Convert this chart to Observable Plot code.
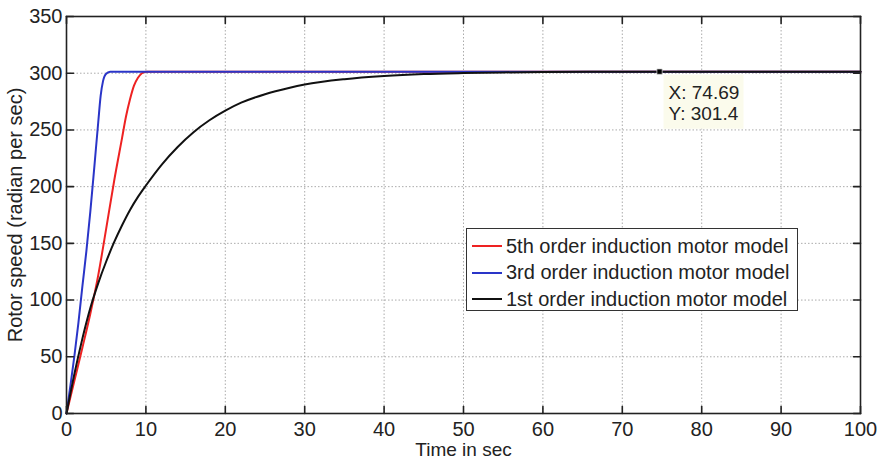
<!DOCTYPE html>
<html>
<head>
<meta charset="utf-8">
<script src="https://cdn.jsdelivr.net/npm/d3@7"></script>
<script src="https://cdn.jsdelivr.net/npm/@observablehq/plot@0.6"></script>
<style>
  html, body { margin: 0; padding: 0; background: #fff; }
  #wrap { position: relative; width: 880px; height: 459px; font-family: "Liberation Sans", Arial, sans-serif; color: #222; }
  #legend { position: absolute; left: 466px; top: 228px; width: 330px; height: 81px; border: 1.5px solid #333; background: #fff; box-sizing: content-box; }
  .row { position: absolute; left: 5px; height: 24px; display: flex; align-items: center; font-size: 20px; white-space: nowrap; }
  .sw { width: 30px; height: 0; border-top: 2px solid; margin-right: 4px; }
</style>
</head>
<body>
<div id="wrap"></div>
<script>
// ---- data ----
const xTicks = [0, 10, 20, 30, 40, 50, 60, 70, 80, 90, 100];
const yTicks = [0, 50, 100, 150, 200, 250, 300, 350];

const seriesNames = ["5th order induction motor model", "3rd order induction motor model", "1st order induction motor model"];
const seriesColors = ["#ee2222", "#2a35c8", "#111111"];

const t5 = [0, 1, 2, 3, 4, 5, 6, 7, 7.5, 8, 8.5, 9, 9.5, 10, 10.5, 100];
const v5 = [0, 29, 58, 88, 122, 163, 205, 243, 262, 277, 289, 296, 300, 301.2, 301.4, 301.4];

const t3 = [0, 0.5, 1, 1.5, 2, 2.5, 3, 3.5, 4, 4.3, 4.6, 5, 5.5, 6, 100];
const v3 = [0, 25, 51, 80, 112, 143, 178, 217, 257, 280, 293, 299.5, 301.2, 301.4, 301.4];

const t1 = [0, 1, 2, 3, 4, 5, 6, 7, 8, 9, 10, 12, 14, 16, 18, 20, 22, 25, 28, 30, 35, 40, 45, 50, 55, 60, 70, 80, 90, 100];
const v1 = [0, 35, 66, 93, 115, 134, 151, 166, 179.5, 191, 201, 219.5, 235, 248, 258.5, 267, 274, 281.5, 287, 290, 294.7, 297.5, 299.2, 300.1, 300.7, 301, 301.3, 301.4, 301.4, 301.4];

const tipX = 74.69;
const tipY = 301.4;

const xLabel = "Time in sec";
const yLabel = "Rotor speed (radian per sec)";

// ---- build ----
const toRows = (ts, vs, s) => ts.map((t, i) => ({t, v: vs[i], s}));
const rows = [
  ...toRows(t5, v5, seriesNames[0]),
  ...toRows(t3, v3, seriesNames[1]),
  ...toRows(t1, v1, seriesNames[2])
];
const tip = [{x: tipX, y: tipY}];

const tickShape = {draw(context, l) { context.moveTo(0, 0); context.lineTo(0, -l); }};
const boxSymbol = {draw(context) { context.rect(4, 3, 80, 54); }};

const chart = Plot.plot({
  width: 880,
  height: 459,
  marginLeft: 66,
  marginRight: 20,
  marginTop: 16,
  marginBottom: 46,
  style: {fontFamily: "Liberation Sans, Arial, sans-serif", fontSize: "20px", color: "#222", background: "#fff"},
  x: {domain: [0, 100], ticks: xTicks, tickSize: 0, tickPadding: 8, label: null},
  y: {domain: [0, 350], ticks: yTicks, tickSize: 0, tickPadding: 4, label: null},
  color: {domain: seriesNames, range: seriesColors},
  marks: [
    Plot.ruleX(xTicks, {stroke: "#888", strokeOpacity: 0.7, strokeDasharray: "1.5,2"}),
    Plot.ruleY(yTicks, {stroke: "#888", strokeOpacity: 0.7, strokeDasharray: "1.5,2"}),
    Plot.dot(tip, {x: "x", y: "y", symbol: boxSymbol, fill: "#fbfbec", stroke: "none"}),
    Plot.line(rows, {x: "t", y: "v", z: "s", stroke: "s", strokeWidth: 2, curve: "monotone-x"}),
    Plot.frame({stroke: "#222", strokeWidth: 1.6}),
    Plot.vector(xTicks, {x: d => d, y: 0, length: 7, rotate: 0, anchor: "start", shape: tickShape, stroke: "#222", strokeWidth: 1.6}),
    Plot.vector(xTicks, {x: d => d, y: 350, length: 7, rotate: 180, anchor: "start", shape: tickShape, stroke: "#222", strokeWidth: 1.6}),
    Plot.vector(yTicks, {x: 0, y: d => d, length: 7, rotate: 90, anchor: "start", shape: tickShape, stroke: "#222", strokeWidth: 1.6}),
    Plot.vector(yTicks, {x: 100, y: d => d, length: 7, rotate: -90, anchor: "start", shape: tickShape, stroke: "#222", strokeWidth: 1.6}),
    Plot.dot(tip, {x: "x", y: "y", symbol: "square", r: 3, fill: "#000", stroke: "#ddd", strokeWidth: 0.7}),
    Plot.text(tip, {x: "x", y: "y", text: d => `X: ${d.x}\nY: ${d.y}`, dx: 9, dy: 13, textAnchor: "start", lineAnchor: "top", lineHeight: 1.1, fontSize: 19, fill: "#222"}),
    Plot.text([xLabel], {frameAnchor: "bottom", text: d => d, dy: 36, lineAnchor: "middle", textAnchor: "middle", fontSize: 19, fill: "#222"}),
    Plot.text([yLabel], {frameAnchor: "left", text: d => d, rotate: -90, dx: -51, textAnchor: "middle", lineAnchor: "middle", fontSize: 20, fill: "#222"})
  ]
});

const wrap = document.getElementById("wrap");
wrap.appendChild(chart);

// legend (HTML overlay)
const legend = document.createElement("div");
legend.id = "legend";
seriesNames.forEach((name, i) => {
  const row = document.createElement("div");
  row.className = "row";
  row.style.top = (5 + i * 26.7) + "px";
  const sw = document.createElement("span");
  sw.className = "sw";
  sw.style.borderTopColor = seriesColors[i];
  const tx = document.createElement("span");
  tx.textContent = name;
  row.appendChild(sw);
  row.appendChild(tx);
  legend.appendChild(row);
});
wrap.appendChild(legend);
</script>
</body>
</html>
